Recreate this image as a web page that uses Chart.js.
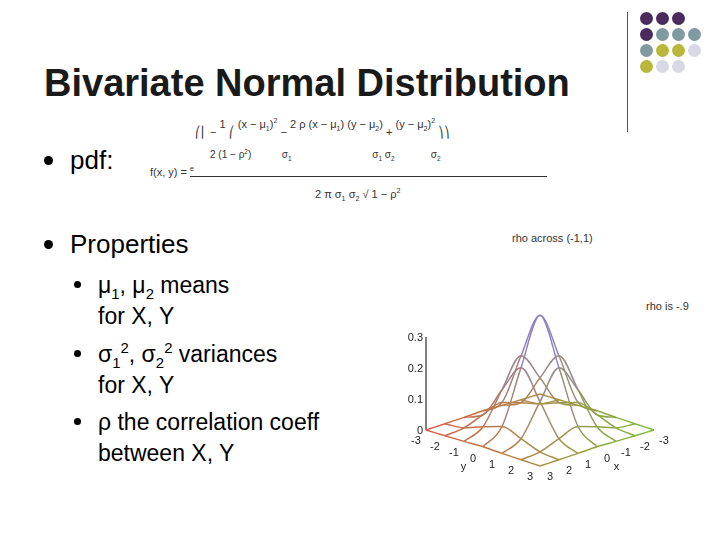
<!DOCTYPE html><html><head><meta charset="utf-8">
<script src="https://cdn.jsdelivr.net/npm/chart.js@4"></script>
<style>
body{margin:0;width:720px;height:540px;background:#fff;font-family:"Liberation Sans",Arial,sans-serif;position:relative;overflow:hidden}
.t{position:absolute;white-space:nowrap;color:#000}
.b{position:absolute;width:9px;height:9px;border-radius:50%;background:#000}
.d{position:absolute;width:13px;height:13px;border-radius:50%}
#c{position:absolute;left:0;top:0}
sub,sup{font-size:65%;line-height:0}
</style></head><body>
<div class="t" style="left:44px;top:62px;font-size:38px;font-weight:bold;color:#1a1a1a">Bivariate Normal Distribution</div>
<div style="position:absolute;left:627px;top:12px;width:1px;height:120px;background:#555"></div>
<div id="dots"></div>
<div class="b" style="left:44px;top:156px"></div>
<div class="t" style="left:70px;top:145px;font-size:26px">pdf:</div>
<div class="b" style="left:44px;top:240px"></div>
<div class="t" style="left:70px;top:229px;font-size:26px">Properties</div>
<div class="b" style="left:74px;top:281px;width:7px;height:7px"></div>
<div class="t" style="left:98px;top:270px;font-size:23px;line-height:31px">μ<sub>1</sub>, μ<sub>2</sub> means<br>for X, Y</div>
<div class="b" style="left:74px;top:350px;width:7px;height:7px"></div>
<div class="t" style="left:98px;top:339px;font-size:23px;line-height:31px">σ<sub>1</sub><sup>2</sup>, σ<sub>2</sub><sup>2</sup> variances<br>for X, Y</div>
<div class="b" style="left:74px;top:418px;width:7px;height:7px"></div>
<div class="t" style="left:98px;top:407px;font-size:23px;line-height:31px">ρ the correlation coeff<br>between X, Y</div>
<div class="t" style="left:150px;top:118px;font-size:11px;color:#333;line-height:13px">
<div style="position:absolute;left:45px;top:8px">⎛⎜ − <span style="position:relative;top:-8px">1</span> ⎛ <span style="position:relative;top:-8px">(x − μ<sub>1</sub>)<sup>2</sup></span> − <span style="position:relative;top:-8px">2 ρ (x − μ<sub>1</sub>) (y − μ<sub>2</sub>)</span> + <span style="position:relative;top:-8px">(y − μ<sub>2</sub>)<sup>2</sup></span> ⎞⎞</div>
<div style="position:absolute;left:60px;top:30px;font-size:10px">2 (1 − ρ<sup>2</sup>)  &nbsp;&nbsp;&nbsp;&nbsp;&nbsp;&nbsp;&nbsp;&nbsp;&nbsp; σ<sub>1</sub> &nbsp;&nbsp;&nbsp;&nbsp;&nbsp;&nbsp;&nbsp;&nbsp;&nbsp;&nbsp;&nbsp;&nbsp;&nbsp;&nbsp;&nbsp;&nbsp;&nbsp;&nbsp;&nbsp;&nbsp;&nbsp;&nbsp;&nbsp;&nbsp;&nbsp;&nbsp;&nbsp; σ<sub>1</sub> σ<sub>2</sub> &nbsp;&nbsp;&nbsp;&nbsp;&nbsp;&nbsp;&nbsp;&nbsp;&nbsp;&nbsp;&nbsp; σ<sub>2</sub></div>
<div style="position:absolute;left:0;top:48px">f(x, y) = <sup>e</sup></div>
<div style="position:absolute;left:40px;top:58px;width:357px;height:1px;background:#333"></div>
<div style="position:absolute;left:165px;top:70px">2 π σ<sub>1</sub> σ<sub>2</sub> √ 1 − ρ<sup>2</sup></div>
</div>
<div class="t" style="left:512px;top:232px;font-size:11px;color:#333">rho across (-1,1)</div>
<div class="t" style="left:646px;top:300px;font-size:11px;color:#333">rho is -.9</div>
<canvas id="c" width="720" height="540"></canvas>
<script>
// estimated surface heights on grid x,y = -3..3 (rows x, cols y)
const gridVals=[-3,-2,-1,0,1,2,3];
const zRows=[
[0.000,0.001,0.002,0.004,0.002,0.001,0.000],
[0.001,0.007,0.030,0.050,0.030,0.007,0.001],
[0.002,0.030,0.130,0.220,0.130,0.030,0.002],
[0.004,0.050,0.220,0.370,0.220,0.050,0.004],
[0.002,0.030,0.130,0.220,0.130,0.030,0.002],
[0.001,0.007,0.030,0.050,0.030,0.007,0.001],
[0.000,0.001,0.002,0.004,0.002,0.001,0.000]];
const zTicks=[0,0.1,0.2,0.3];
const xTicks=[-3,-2,-1,0,1,2,3];
function P(x,y,z){return {x:540+(x-y)*19,y:430+(x+y)*6-z*310,z:z,u:x,v:y};}
function col(z,u,v){const t=Math.min(1,z/0.36);
 const w=Math.max(0,Math.min(1,(u-v+6)/12));
 const lr=[220,90,70], lg=[120,190,60], hi=[140,130,220];
 const base=lr.map((c,k)=>c*(1-w)+lg[k]*w);
 const c=base.map((c,k)=>Math.round(c*(1-t)+hi[k]*t));
 return `rgb(${c[0]},${c[1]},${c[2]})`;}
const ds=[];
for(let i=0;i<7;i++){
 const a=[],b=[];
 for(let j=0;j<7;j++){a.push(P(gridVals[i],gridVals[j],zRows[i][j]));b.push(P(gridVals[j],gridVals[i],zRows[j][i]));}
 [a,b].forEach(d=>ds.push({data:d,showLine:true,pointRadius:0,borderWidth:1.5,cubicInterpolationMode:'monotone',
  segment:{borderColor:c=>col((c.p0.raw.z+c.p1.raw.z)/2,(c.p0.raw.u+c.p1.raw.u)/2,(c.p0.raw.v+c.p1.raw.v)/2)}}));
}
ds.push({data:[P(-3,3,0),P(-3,3,0.3)],showLine:true,pointRadius:0,borderColor:'#000',borderWidth:1});
const labels={id:'lab',afterDatasetsDraw(ch){const c=ch.ctx,sx=ch.scales.x,sy=ch.scales.y;c.save();c.font='11px "Liberation Sans"';c.fillStyle='#222';
 c.textAlign='right';zTicks.forEach(z=>{const p=P(-3,3,z);c.fillText(z===0?'0':z.toFixed(1),sx.getPixelForValue(p.x)-3,sy.getPixelForValue(p.y)+4);});
 c.textAlign='center';xTicks.forEach(v=>{let p=P(v,3,0);c.fillText(String(v),sx.getPixelForValue(p.x)-10,sy.getPixelForValue(p.y)+14);
  p=P(3,v,0);c.fillText(String(v),sx.getPixelForValue(p.x)+10,sy.getPixelForValue(p.y)+14);});
 let p=P(0,3.6,0);c.fillText('y',sx.getPixelForValue(p.x)-8,sy.getPixelForValue(p.y)+18);
 p=P(3.6,0,0);c.fillText('x',sx.getPixelForValue(p.x)+8,sy.getPixelForValue(p.y)+18);c.restore();}};
new Chart(document.getElementById('c'),{type:'scatter',data:{datasets:ds},plugins:[labels],
 options:{responsive:false,animation:false,layout:{padding:0},plugins:{legend:{display:false},tooltip:{enabled:false}},
 scales:{x:{type:'linear',min:0,max:720,display:false},y:{type:'linear',min:0,max:540,reverse:true,display:false}}}});
const dotCols=[['#4b2a5e','#4b2a5e','#4b2a5e',null],['#4b2a5e','#7f9aa0','#7f9aa0','#7f9aa0'],['#7f9aa0','#b8b83a','#b8b83a','#d8d8e6'],['#b8b83a','#d8d8e6','#d8d8e6',null]];
const dd=document.getElementById('dots');
dotCols.forEach((r,i)=>r.forEach((cc,j)=>{if(!cc)return;const e=document.createElement('div');e.className='d';e.style.background=cc;e.style.left=(640+j*16)+'px';e.style.top=(12+i*16)+'px';dd.appendChild(e);}));
</script></body></html>
